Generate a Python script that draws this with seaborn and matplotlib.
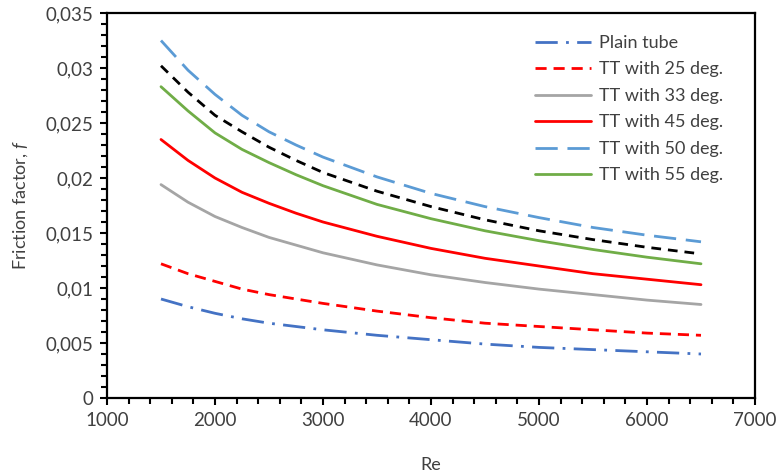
import matplotlib
matplotlib.use("Agg")
import matplotlib.pyplot as plt
import seaborn as sns
import numpy as np
import pandas as pd
from matplotlib.ticker import MultipleLocator, FuncFormatter

# Reynolds numbers at which the friction factor is plotted
re_values = [1500, 1750, 2000, 2250, 2500, 2750, 3000, 3500, 4000, 4500, 5000, 5500, 6000, 6500]

plain_tube = [0.0090, 0.0083, 0.0077, 0.0072, 0.0068, 0.0065, 0.0062, 0.0057, 0.0053, 0.0049, 0.0046, 0.0044, 0.0042, 0.0040]
tt_25 = [0.0122, 0.0113, 0.0106, 0.0099, 0.0094, 0.0090, 0.0086, 0.0079, 0.0073, 0.0068, 0.0065, 0.0062, 0.0059, 0.0057]
tt_33 = [0.0194, 0.0178, 0.0165, 0.0155, 0.0146, 0.0139, 0.0132, 0.0121, 0.0112, 0.0105, 0.0099, 0.0094, 0.0089, 0.0085]
tt_45 = [0.0235, 0.0216, 0.0200, 0.0187, 0.0177, 0.0168, 0.0160, 0.0147, 0.0136, 0.0127, 0.0120, 0.0113, 0.0108, 0.0103]
tt_50 = [0.0325, 0.0298, 0.0276, 0.0257, 0.0242, 0.0230, 0.0219, 0.0201, 0.0186, 0.0174, 0.0164, 0.0155, 0.0148, 0.0142]
tt_55 = [0.0283, 0.0261, 0.0241, 0.0226, 0.0214, 0.0203, 0.0193, 0.0176, 0.0163, 0.0152, 0.0143, 0.0135, 0.0128, 0.0122]
tt_extra = [0.0302, 0.0278, 0.0257, 0.0242, 0.0228, 0.0216, 0.0205, 0.0188, 0.0174, 0.0162, 0.0152, 0.0144, 0.0137, 0.0131]

series = [
    ("Plain tube", plain_tube, "#4472C4", (0, (8, 3, 1, 3))),
    ("TT with 25 deg.", tt_25, "#FF0000", (0, (4, 2.5))),
    ("TT with 33 deg.", tt_33, "#A5A5A5", "-"),
    ("TT with 45 deg.", tt_45, "#FF0000", "-"),
    ("TT with 50 deg.", tt_50, "#5B9BD5", (0, (8, 3.5))),
    ("TT with 55 deg.", tt_55, "#70AD47", "-"),
]

sns.set_style("white")
plt.rcParams["font.family"] = ["Lato", "DejaVu Sans"]
plt.rcParams["mathtext.fontset"] = "custom"
plt.rcParams["mathtext.it"] = "Lato:italic"
plt.rcParams["mathtext.rm"] = "Lato"

fig = plt.figure(figsize=(7.79, 4.73), dpi=100)
ax = fig.add_axes([107 / 779, 75 / 473, 648 / 779, 385 / 473])

for name, vals, color, ls in series:
    df = pd.DataFrame({"Re": re_values, "f": vals})
    sns.lineplot(data=df, x="Re", y="f", ax=ax, color=color, linestyle=ls,
                 linewidth=2.0, label=name)

# Unlabelled black dashed curve
df_extra = pd.DataFrame({"Re": re_values, "f": tt_extra})
sns.lineplot(data=df_extra, x="Re", y="f", ax=ax, color="black",
             linestyle=(0, (3.5, 2.5)), linewidth=2.0, legend=False)

ax.set_xlim(1000, 7000)
ax.set_ylim(0, 0.035)
ax.xaxis.set_major_locator(MultipleLocator(1000))
ax.xaxis.set_minor_locator(MultipleLocator(200))
ax.yaxis.set_major_locator(MultipleLocator(0.005))
ax.yaxis.set_minor_locator(MultipleLocator(0.001))
ax.yaxis.set_major_formatter(FuncFormatter(lambda v, p: f"{round(v, 4):g}".replace(".", ",")))

text_color = "#404040"
ax.tick_params(which="major", direction="out", length=5, width=1.5,
               labelsize=13.5, labelcolor=text_color, color="black", pad=5)
ax.tick_params(which="minor", direction="out", length=4, width=1.5, color="black")
ax.tick_params(axis="both", which="both", bottom=True, left=True, top=False, right=False)

for sp in ax.spines.values():
    sp.set_color("black")
    sp.set_linewidth(1.6)

ax.set_xlabel("Re", fontsize=13, color=text_color, labelpad=20)
ax.set_ylabel("Friction factor, $f$", fontsize=13, color=text_color, labelpad=11)

leg = ax.legend(loc="upper left", bbox_to_anchor=(535 / 779, 1 - 35 / 473),
                bbox_transform=fig.transFigure, frameon=False, fontsize=13,
                handlelength=3.1, handletextpad=0.45, labelspacing=0.58,
                borderpad=0, borderaxespad=0)
for t in leg.get_texts():
    t.set_color(text_color)

fig.savefig("out.png", dpi=100)
